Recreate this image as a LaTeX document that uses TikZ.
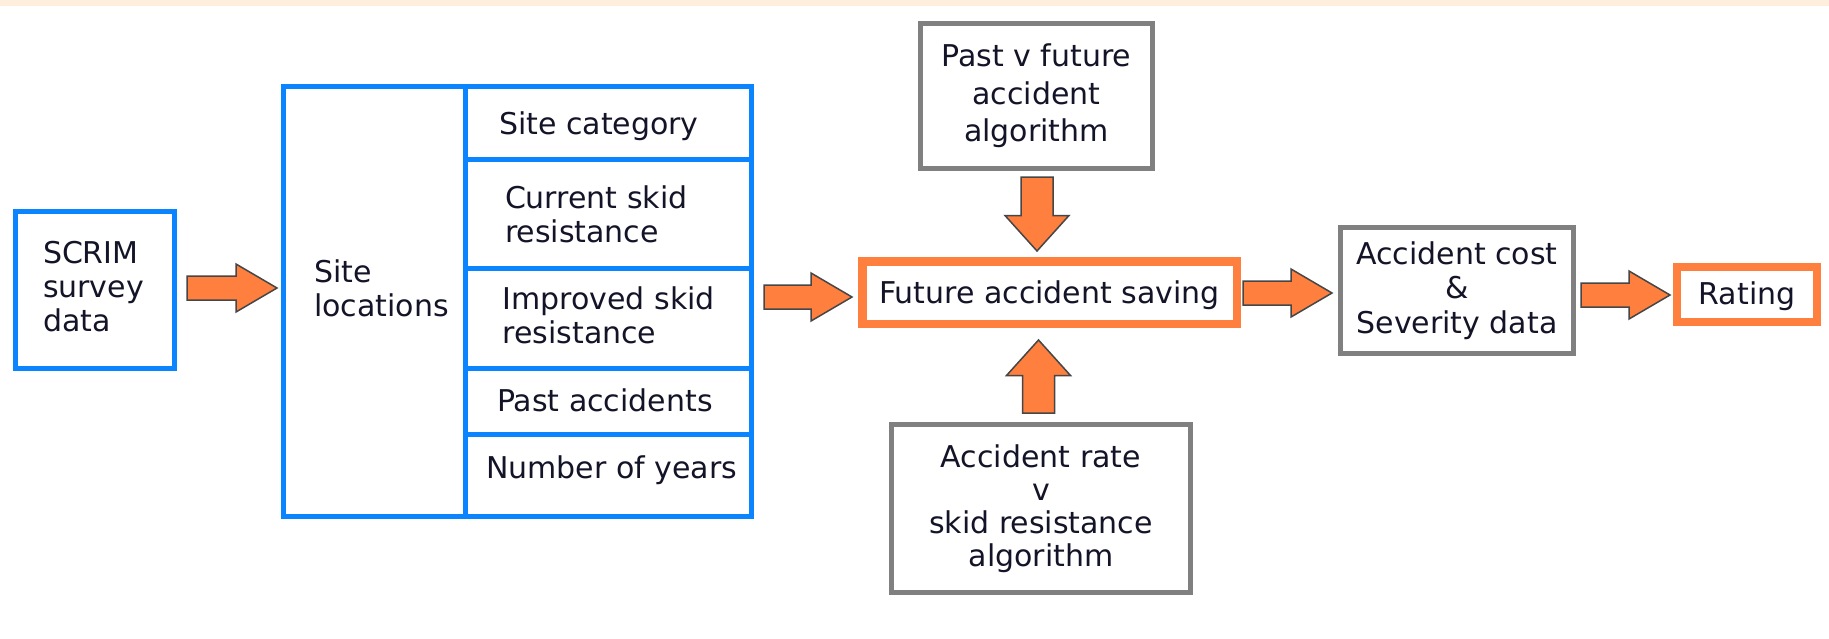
\documentclass[tikz,border=0pt]{standalone}
\usepackage{fontspec}
\setmainfont{DejaVu Sans}
\usetikzlibrary{calc}
\definecolor{bluec}{RGB}{10,132,255}
\definecolor{orangec}{RGB}{255,127,63}
\definecolor{grayc}{RGB}{128,128,128}
\definecolor{arrowline}{RGB}{70,70,70}
\definecolor{bandc}{RGB}{253,239,220}
\definecolor{textc}{RGB}{20,20,40}
\def\hsw{12pt}\def\hhw{24pt}\def\hhl{41pt}
\def\vsw{16pt}\def\vhw{32pt}\def\vhl{35.5pt}
% right-pointing block arrow from tail #1 to tip #2 (y taken from tail)
\newcommand{\rfat}[2]{\draw[fatarrow] let \p1=#1, \p2=#2 in
  (\x1,\y1-\hsw) -- (\x2-\hhl,\y1-\hsw) -- (\x2-\hhl,\y1-\hhw) -- (\x2,\y1)
  -- (\x2-\hhl,\y1+\hhw) -- (\x2-\hhl,\y1+\hsw) -- (\x1,\y1+\hsw) -- cycle;}
% downward block arrow
\newcommand{\dfat}[2]{\draw[fatarrow] let \p1=#1, \p2=#2 in
  (\x1-\vsw,\y1) -- (\x1-\vsw,\y2+\vhl) -- (\x1-\vhw,\y2+\vhl) -- (\x1,\y2)
  -- (\x1+\vhw,\y2+\vhl) -- (\x1+\vsw,\y2+\vhl) -- (\x1+\vsw,\y1) -- cycle;}
% upward block arrow
\newcommand{\ufat}[2]{\draw[fatarrow] let \p1=#1, \p2=#2 in
  (\x1-\vsw,\y1) -- (\x1-\vsw,\y2-\vhl) -- (\x1-\vhw,\y2-\vhl) -- (\x1,\y2)
  -- (\x1+\vhw,\y2-\vhl) -- (\x1+\vsw,\y2-\vhl) -- (\x1+\vsw,\y1) -- cycle;}
\begin{document}
\begin{tikzpicture}[x=1pt,y=-1pt,
  bluebox/.style={draw=bluec, line width=5pt, inner sep=0pt, outer sep=0pt},
  graybox/.style={draw=grayc, line width=5pt, inner sep=0pt, outer sep=0pt, align=center, text=textc},
  orangebox/.style={draw=orangec, line width=8.5pt, inner sep=0pt, outer sep=0pt, text=textc,
    font=\fontsize{30pt}{34pt}\selectfont, text height=22.8pt, text depth=1.2pt},
  txt/.style={inner sep=0pt, outer sep=0pt, align=left, text=textc, font=\fontsize{30pt}{34pt}\selectfont},
  fatarrow/.style={fill=orangec, draw=arrowline, line width=1.5pt, line join=miter}]
\useasboundingbox (0,0) rectangle (1829,638);
\fill[white] (0,0) rectangle (1829,638);
\fill[bandc] (0,0) rectangle (1829,5.5);

% SCRIM box
\node[bluebox, minimum width=159pt, minimum height=157pt] (scrim) at (95,290) {};
\node[txt, anchor=west] (scrimtxt) at (43,287) {SCRIM\\survey\\data};

% site table
\node[bluebox, minimum width=467.5pt, minimum height=430pt] (site) at (517.25,301.5) {};
\node[bluebox, minimum width=182pt, minimum height=430pt] (siteloc) at (374.5,301.5) {};
\node[txt, anchor=west] (siteloctxt) at (314,288.75) {Site\\locations};
\node[bluebox, minimum width=285.5pt, minimum height=72.5pt] (c1) at (608.25,122.75) {};
\node[bluebox, minimum width=285.5pt, minimum height=109pt] (c2) at (608.25,213.5) {};
\node[bluebox, minimum width=285.5pt, minimum height=100.5pt] (c3) at (608.25,318.25) {};
\node[bluebox, minimum width=285.5pt, minimum height=66pt] (c4) at (608.25,401.5) {};
\node[bluebox, minimum width=285.5pt, minimum height=82pt] (c5) at (608.25,475.5) {};
\node[txt, anchor=base west] (c1txt) at (499,134.5) {Site category};
\node[txt, anchor=west] (c2txt) at (505,214.2) {Current skid\\resistance};
\node[txt, anchor=west] (c3txt) at (502.5,315.6) {Improved skid\\resistance};
\node[txt, anchor=base west] (c4txt) at (497,411) {Past accidents};
\node[txt, anchor=base west] (c5txt) at (486,478) {Number of years};

% centre column
\node[orangebox, minimum width=374.5pt, minimum height=62.5pt] (future) at (1049.5,292.5) {Future accident saving};
\node[graybox, minimum width=232pt, minimum height=145pt, font=\fontsize{30pt}{37.5pt}\selectfont] (past) at (1036.5,96) {Past v future\\accident\\algorithm};
\node[graybox, minimum width=299pt, minimum height=168pt, font=\fontsize{30pt}{33pt}\selectfont] (rate) at (1041,508.5) {Accident rate\\v\\skid resistance\\algorithm};

% right part
\node[graybox, minimum width=233pt, minimum height=126pt, font=\fontsize{30pt}{34.5pt}\selectfont] (cost) at (1457,290.5) {Accident cost\\\&\\Severity data};
\node[orangebox, line width=8pt, minimum width=140pt, minimum height=55pt, text depth=2pt] (rating) at (1747,294.5) {Rating};

% block arrows
\rfat{($(scrim.east)+(12.5,-2)$)}{($(site.west)+(-6.5,0)$)}
\rfat{($(site.east)+(13,-4.5)$)}{($(future.west)+(-10.25,0)$)}
\rfat{($(future.east)+(6.25,0.5)$)}{($(cost.west)+(-8.5,0)$)}
\rfat{($(cost.east)+(7.5,4.5)$)}{($(rating.west)+(-7,0)$)}
\dfat{($(past.south)+(0.5,8.5)$)}{($(future.north)+(0,-10.25)$)}
\ufat{($(rate.north)+(-2.5,-11.5)$)}{($(future.south)+(0,16.25)$)}
\end{tikzpicture}
\end{document}
